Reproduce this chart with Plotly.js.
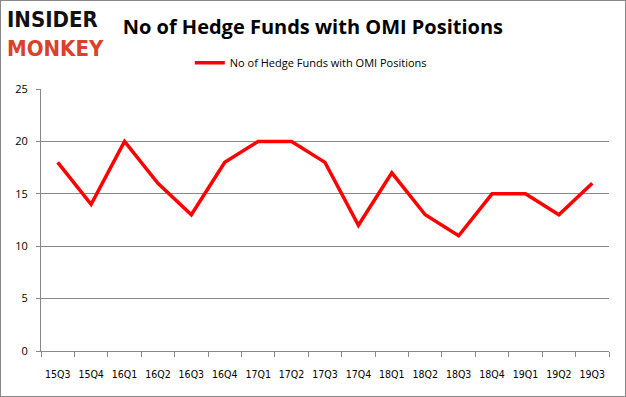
<!DOCTYPE html>
<html><head><meta charset="utf-8">
<script src="https://cdn.plot.ly/plotly-3.0.1.min.js"></script>
<style>html,body{margin:0;padding:0;background:#fff}#c{position:absolute;left:0;top:0;width:624px;height:395px;border:1px solid #888}</style>
</head><body><div id="c"></div>
<script>
const categories = ["15Q3","15Q4","16Q1","16Q2","16Q3","16Q4","17Q1","17Q2","17Q3","17Q4","18Q1","18Q2","18Q3","18Q4","19Q1","19Q2","19Q3"];
const funds = [18,14,20,16,13,18,20,20,18,12,17,13,11,15,15,13,16];
const seriesName = "No of Hedge Funds with OMI Positions";
const yTicks = [0,5,10,15,20,25];

const trace = {x: categories, y: funds, type: "scatter", mode: "lines", name: seriesName,
  line: {color: "#ff0000", width: 3.5}};
const layout = {
  width: 624, height: 395,
  margin: {l: 40, r: 16, t: 88, b: 45},
  paper_bgcolor: "#fff", plot_bgcolor: "#fff",
  font: {family: "Open Sans, DejaVu Sans, sans-serif", color: "#000", size: 11},
  title: {text: "<b>No of Hedge Funds with OMI Positions</b>", x: 0.195, xanchor: "left", y: 0.935, yanchor: "middle",
    font: {size: 20, family: "Open Sans, sans-serif", color: "#000"}},
  showlegend: true,
  legend: {orientation: "h", x: 0.262, xanchor: "left", y: 1.10, yanchor: "middle", font: {size: 11}},
  xaxis: {type: "category", range: [-0.5, categories.length - 0.5], showline: true, linecolor: "#888", linewidth: 1,
    ticks: "outside", tickson: "boundaries", tickangle: 0,
    ticklen: 5, tickcolor: "#888", showgrid: false, tickfont: {size: 10.5, family: "DejaVu Sans Condensed, Liberation Sans, sans-serif"}, ticklabelstandoff: 13},
  yaxis: {range: [0, 25], tickvals: yTicks, showline: true, linecolor: "#888", linewidth: 1, ticks: "outside",
    ticklen: 4, tickcolor: "#888", gridcolor: "#888", gridwidth: 1, zeroline: false, tickfont: {size: 11}, ticklabelstandoff: 6},
  annotations: [
    {text: "<b>INSIDER</b><br><span style='color:#d9412b'><b>MONKEY</b></span>", align: "left",
      xref: "paper", yref: "paper", x: -0.064, y: 1.21, xanchor: "left", yanchor: "middle", showarrow: false,
      font: {family: "DejaVu Sans Condensed, sans-serif", size: 22, color: "#111"}}
  ]
};
Plotly.newPlot("c", [trace], layout, {displayModeBar: false, staticPlot: true});
</script></body></html>
